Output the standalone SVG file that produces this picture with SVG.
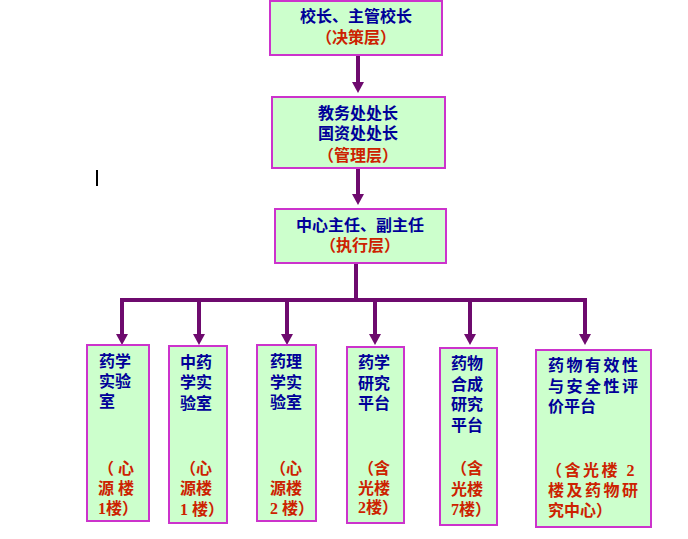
<svg xmlns="http://www.w3.org/2000/svg" width="688" height="539" viewBox="0 0 688 539">
<style>
.box{fill:#CCFFCC;stroke:#CC33CC;stroke-width:2}
.conn{stroke:#6E0A6E;stroke-width:4;fill:none}
text{font-family:"Liberation Serif","Noto Sans CJK SC",serif;font-size:16px;font-weight:bold}
.b{fill:#000099}
.r{fill:#CC2200}
.m{text-anchor:middle}
</style>
<defs>
<marker id="ah" markerUnits="userSpaceOnUse" viewBox="0 0 11 12" refX="5" refY="6" markerWidth="11" markerHeight="12" orient="auto">
<path d="M0,0 L11,6 L0,12 z" fill="#6E0A6E"/>
</marker>
</defs>
<rect width="688" height="539" fill="#FFFFFF"/>
<g id="connectors">
<line class="conn" x1="358" y1="56" x2="358" y2="87" marker-end="url(#ah)"/>
<line class="conn" x1="358" y1="169" x2="358" y2="199" marker-end="url(#ah)"/>
<line class="conn" x1="356" y1="264" x2="356" y2="300"/>
<line class="conn" x1="120" y1="300" x2="587" y2="300"/>
<line class="conn" x1="122" y1="300" x2="122" y2="339" marker-end="url(#ah)"/>
<line class="conn" x1="199" y1="300" x2="199" y2="339" marker-end="url(#ah)"/>
<line class="conn" x1="287" y1="300" x2="287" y2="339" marker-end="url(#ah)"/>
<line class="conn" x1="375" y1="300" x2="375" y2="339" marker-end="url(#ah)"/>
<line class="conn" x1="470" y1="300" x2="470" y2="339" marker-end="url(#ah)"/>
<line class="conn" x1="585" y1="300" x2="585" y2="339" marker-end="url(#ah)"/>
</g>
<g id="n-decision">
<rect class="box" x="270" y="1" width="172" height="54"/>
<text class="b m" x="356" y="22">校长、主管校长</text>
<text class="r m" x="356" y="43">（决策层）</text>
</g>
<g id="n-management">
<rect class="box" x="272" y="97" width="173" height="71"/>
<text class="b m" x="358" y="119">教务处处长</text>
<text class="b m" x="358" y="139">国资处处长</text>
<text class="r m" x="358" y="161">（管理层）</text>
</g>
<g id="n-execution">
<rect class="box" x="275" y="209" width="171" height="54"/>
<text class="b m" x="360" y="231">中心主任、副主任</text>
<text class="r m" x="360" y="251">（执行层）</text>
</g>
<g id="n-lab1">
<rect class="box" x="87" y="345" width="62" height="176"/>
<text class="b" x="99" y="367">药学</text>
<text class="b" x="99" y="387">实验</text>
<text class="b" x="99" y="407">室</text>
<text class="r" x="98" y="474">（ 心</text>
<text class="r" x="98" y="494">源 楼</text>
<text class="r" x="98" y="514">1楼）</text>
</g>
<g id="n-lab2">
<rect class="box" x="169" y="346" width="58" height="177"/>
<text class="b" x="180" y="368">中药</text>
<text class="b" x="180" y="388">学实</text>
<text class="b" x="180" y="409">验室</text>
<text class="r" x="180" y="474">（心</text>
<text class="r" x="180" y="494">源楼</text>
<text class="r" x="180" y="515">1 楼）</text>
</g>
<g id="n-lab3">
<rect class="box" x="257" y="345" width="59" height="176"/>
<text class="b" x="270" y="367">药理</text>
<text class="b" x="270" y="388">学实</text>
<text class="b" x="270" y="408">验室</text>
<text class="r" x="270" y="474">（心</text>
<text class="r" x="270" y="494">源楼</text>
<text class="r" x="270" y="514">2 楼）</text>
</g>
<g id="n-platform1">
<rect class="box" x="347" y="347" width="57" height="176"/>
<text class="b" x="358" y="368">药学</text>
<text class="b" x="358" y="389">研究</text>
<text class="b" x="358" y="409">平台</text>
<text class="r" x="358" y="474">（含</text>
<text class="r" x="358" y="494">光楼</text>
<text class="r" x="358" y="513">2楼）</text>
</g>
<g id="n-platform2">
<rect class="box" x="440" y="348" width="57" height="177"/>
<text class="b" x="451" y="369">药物</text>
<text class="b" x="451" y="390">合成</text>
<text class="b" x="451" y="410">研究</text>
<text class="b" x="451" y="431">平台</text>
<text class="r" x="451" y="474">（含</text>
<text class="r" x="451" y="495">光楼</text>
<text class="r" x="451" y="515">7楼）</text>
</g>
<g id="n-platform3">
<rect class="box" x="536" y="350" width="115" height="177"/>
<text class="b" x="548" y="371" letter-spacing="2.5">药物有效性</text>
<text class="b" x="548" y="392" letter-spacing="2.5">与安全性评</text>
<text class="b" x="548" y="412">价平台</text>
<text class="r" x="546" y="476" letter-spacing="2.5">（含光楼 2</text>
<text class="r" x="548" y="496" letter-spacing="2.5">楼及药物研</text>
<text class="r" x="548" y="516">究中心）</text>
</g>
<rect x="96" y="170" width="2" height="16" fill="#000000"/>
</svg>
